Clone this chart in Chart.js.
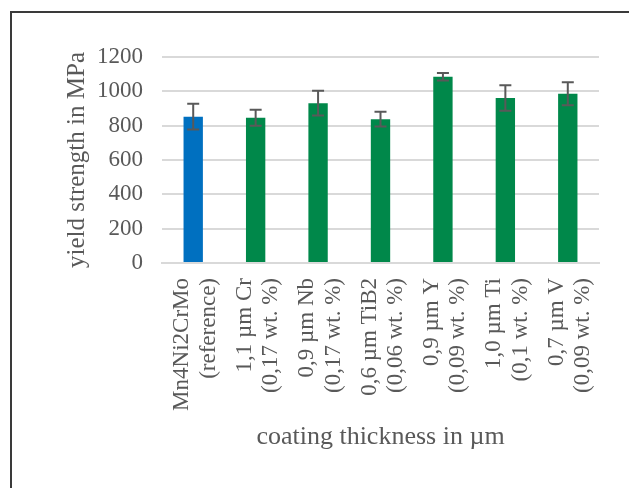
<!DOCTYPE html>
<html>
  <head>
    <script src="https://cdn.jsdelivr.net/npm/chart.js"></script>
    <title>Yield strength</title>
    <style>
      body {
        margin: 0;
        background-color: white;
      }
      .wrap {
        position: relative;
        width: 629px;
        height: 488px;
        overflow: hidden;
      }
      .frame {
        position: absolute;
        left: 10px;
        top: 11px;
        width: 700px;
        height: 600px;
        border-top: 2px solid #3a3a3a;
        border-left: 2px solid #3a3a3a;
      }
      canvas {
        position: absolute;
        left: 0;
        top: 0;
      }
    </style>
  </head>
  <body>
    <div class="wrap">
      <div class="frame"></div>
      <canvas id="myChart" width="629" height="488"></canvas>
    </div>
    <script>
      // data
      var categories = [
        ['Mn4Ni2CrMo', '(reference)'],
        ['1,1 µm Cr', '(0,17 wt. %)'],
        ['0,9 µm Nb', '(0,17 wt. %)'],
        ['0,6 µm TiB2', '(0,06 wt. %)'],
        ['0,9 µm Y', '(0,09 wt. %)'],
        ['1,0 µm Ti', '(0,1 wt. %)'],
        ['0,7 µm V', '(0,09 wt. %)']
      ];
      var yieldStrength = [852, 846, 931, 838, 1085, 961, 986];
      var stdDev = [75, 46, 72, 43, 22, 74, 67];
      var barColors = ['#0070C0', '#00884A', '#00884A', '#00884A', '#00884A', '#00884A', '#00884A'];

      var greyText = '#595959';

      // draw the error bars from the y scale
      var errorBars = {
        id: 'errorBars',
        afterDatasetsDraw: function(chart) {
          var ctx = chart.ctx;
          var yScale = chart.scales.y;
          var meta = chart.getDatasetMeta(0);
          ctx.save();
          ctx.strokeStyle = '#595959';
          ctx.lineWidth = 2;
          meta.data.forEach(function(bar, i) {
            var top = yScale.getPixelForValue(yieldStrength[i] + stdDev[i]);
            var bottom = yScale.getPixelForValue(yieldStrength[i] - stdDev[i]);
            var x = bar.x;
            ctx.beginPath();
            ctx.moveTo(x, top);
            ctx.lineTo(x, bottom);
            ctx.moveTo(x - 6, top);
            ctx.lineTo(x + 6, top);
            ctx.moveTo(x - 6, bottom);
            ctx.lineTo(x + 6, bottom);
            ctx.stroke();
          });
          ctx.restore();
        }
      };

      var ctx = document.getElementById('myChart').getContext('2d');
      var chart = new Chart(ctx, {
        type: 'bar',
        data: {
          labels: categories,
          datasets: [
            {
              label: 'yield strength',
              data: yieldStrength,
              backgroundColor: barColors,
              barPercentage: 0.31,
              categoryPercentage: 1.0
            }
          ]
        },
        options: {
          responsive: false,
          animation: false,
          layout: {
            padding: { left: 62, right: 30, top: 57, bottom: 35 }
          },
          plugins: {
            legend: { display: false },
            tooltip: { enabled: false }
          },
          scales: {
            x: {
              grid: { display: false, drawTicks: false },
              border: { color: '#d9d9d9', width: 2 },
              ticks: {
                color: greyText,
                font: { family: 'Liberation Serif', size: 23, lineHeight: 1.15 },
                minRotation: 90,
                maxRotation: 90,
                labelOffset: -11,
                padding: 15
              },
              title: {
                display: true,
                text: 'coating thickness in µm',
                color: greyText,
                font: { family: 'Liberation Serif', size: 26 },
                padding: { top: 9, bottom: 0 }
              },
              // fixed axis height, rotated labels should not eat into the side margins
              afterFit: function(scale) {
                scale.paddingLeft = 0;
                scale.paddingRight = 0;
                scale.height = 190;
              }
            },
            y: {
              min: 0,
              max: 1200,
              ticks: {
                stepSize: 200,
                color: greyText,
                font: { family: 'Liberation Serif', size: 23 },
                padding: 19,
                callback: function(value) { return String(value); }
              },
              grid: { color: '#d9d9d9', lineWidth: 2, drawTicks: false },
              border: { display: false },
              title: {
                display: true,
                text: 'yield strength in MPa',
                color: greyText,
                font: { family: 'Liberation Serif', size: 25 },
                padding: { top: 0, bottom: 4 }
              },
              afterFit: function(scale) {
                scale.width = 100;
              }
            }
          }
        },
        plugins: [errorBars]
      });
    </script>
  </body>
</html>
